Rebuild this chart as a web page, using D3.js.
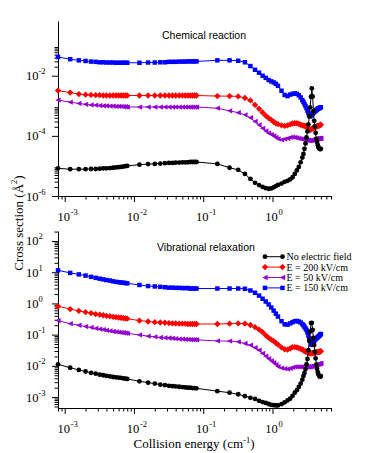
<!DOCTYPE html>
<html>
<head>
<meta charset="utf-8">
<script src="https://cdn.jsdelivr.net/npm/d3@7"></script>
<style>
  body { margin: 0; background: #fff; }
  text { font-family: "Liberation Serif", "Times New Roman", serif; fill: #000; }
  .panel-title { font-family: "Liberation Sans", Arial, sans-serif; }
</style>
</head>
<body>
<div id="chart"></div>
<script>
// collision energies (cm^-1), shared by every set
const energies = [
  0.0008, 0.0012, 0.0016, 0.002, 0.0024, 0.0028, 0.0032, 0.0036, 0.004, 0.0045, 0.005, 0.0055, 0.006, 0.0065, 0.007, 0.0075, 0.008,
  0.012, 0.016, 0.02, 0.024, 0.028, 0.032, 0.036, 0.04, 0.045, 0.05, 0.055, 0.06, 0.065, 0.07, 0.075, 0.08,
  0.16, 0.24, 0.32, 0.4, 0.48, 0.56, 0.64, 0.72, 0.8, 0.88, 0.96, 1.04, 1.12, 1.2,
  1.35, 1.5, 1.65, 1.8, 1.95, 2.1, 2.25, 2.4, 2.55, 2.7,
  2.8, 2.9, 3.0, 3.1, 3.2, 3.3, 3.4, 3.5, 3.6, 3.7, 3.8, 3.9, 4.0, 4.1, 4.2, 4.3, 4.4, 4.5, 4.6, 4.7, 4.8, 4.9, 5.0
];

// Chemical reaction cross sections (A^2)
const reactionNoField = [
  8.3e-6, 7.8e-6, 7.8e-6, 7.8e-6, 7.9e-6, 7.9e-6, 8.1e-6, 8.3e-6, 8.3e-6, 8.5e-6, 8.7e-6, 8.9e-6, 9.1e-6, 9.3e-6, 9.5e-6, 9.8e-6, 1.0e-5,
  1.1e-5, 1.15e-5, 1.17e-5, 1.2e-5, 1.23e-5, 1.26e-5, 1.26e-5, 1.29e-5, 1.29e-5, 1.32e-5, 1.32e-5, 1.32e-5, 1.35e-5, 1.35e-5, 1.35e-5, 1.35e-5,
  1.17e-5, 8.7e-6, 7.4e-6, 5.4e-6, 3.7e-6, 2.75e-6, 2.3e-6, 2.0e-6, 1.82e-6, 1.74e-6, 1.78e-6, 1.95e-6, 2.14e-6, 2.34e-6,
  2.6e-6, 2.95e-6, 3.2e-6, 3.55e-6, 4.2e-6, 5.4e-6, 7.1e-6, 9.3e-6, 1.32e-5, 1.9e-5,
  2.5e-5, 3.7e-5, 5.6e-5, 8.9e-5, 1.41e-4, 2.4e-4, 4.5e-4, 8.9e-4, 2.0e-3, 3.8e-3, 2.04e-3, 6.6e-4, 3.16e-4, 2.04e-4, 1.26e-4, 7.9e-5, 6.3e-5, 5.0e-5, 4.3e-5, 3.9e-5, 3.7e-5, 3.6e-5, 3.7e-5
];
const reaction200 = [
  3.2e-3, 2.75e-3, 2.45e-3, 2.35e-3, 2.3e-3, 2.25e-3, 2.25e-3, 2.2e-3, 2.2e-3, 2.2e-3, 2.2e-3, 2.2e-3, 2.2e-3, 2.2e-3, 2.2e-3, 2.2e-3, 2.2e-3,
  2.2e-3, 2.2e-3, 2.2e-3, 2.2e-3, 2.2e-3, 2.2e-3, 2.2e-3, 2.2e-3, 2.2e-3, 2.2e-3, 2.2e-3, 2.2e-3, 2.2e-3, 2.2e-3, 2.2e-3, 2.2e-3,
  2.1e-3, 2.1e-3, 2.05e-3, 1.82e-3, 1.51e-3, 1.07e-3, 7.9e-4, 6.0e-4, 4.7e-4, 3.9e-4, 3.4e-4, 2.95e-4, 2.6e-4, 2.45e-4,
  2.24e-4, 2.14e-4, 2.24e-4, 2.4e-4, 2.57e-4, 2.63e-4, 2.63e-4, 2.5e-4, 2.34e-4, 2.24e-4,
  2.19e-4, 2.14e-4, 2.09e-4, 2.04e-4, 1.9e-4, 1.74e-4, 1.62e-4, 1.58e-4, 1.62e-4, 1.7e-4, 1.78e-4, 1.86e-4, 1.9e-4, 1.95e-4, 2.0e-4, 2.04e-4, 2.09e-4, 2.14e-4, 2.14e-4, 2.19e-4, 2.24e-4, 2.29e-4, 2.34e-4
];
const reaction50 = [
  1.55e-3, 1.32e-3, 1.2e-3, 1.12e-3, 1.07e-3, 1.05e-3, 1.02e-3, 1.0e-3, 1.0e-3, 9.8e-4, 9.8e-4, 9.5e-4, 9.5e-4, 9.5e-4, 9.3e-4, 9.3e-4, 9.1e-4,
  9.1e-4, 9.1e-4, 9.1e-4, 9.1e-4, 9.1e-4, 9.1e-4, 9.1e-4, 9.1e-4, 9.1e-4, 9.1e-4, 9.1e-4, 9.1e-4, 9.1e-4, 9.1e-4, 9.1e-4, 9.1e-4,
  8.3e-4, 6.8e-4, 5.9e-4, 5.0e-4, 4.0e-4, 3.0e-4, 2.3e-4, 1.78e-4, 1.45e-4, 1.23e-4, 1.1e-4, 1.0e-4, 8.9e-5, 7.9e-5,
  7.4e-5, 7.8e-5, 8.3e-5, 8.9e-5, 9.1e-5, 8.9e-5, 8.5e-5, 8.3e-5, 7.9e-5, 7.8e-5,
  7.6e-5, 7.4e-5, 7.4e-5, 7.2e-5, 7.2e-5, 7.1e-5, 6.9e-5, 6.9e-5, 7.1e-5, 7.2e-5, 7.4e-5, 7.6e-5, 7.8e-5, 7.8e-5, 7.9e-5, 7.9e-5, 8.1e-5, 8.1e-5, 8.1e-5, 8.3e-5, 8.3e-5, 8.3e-5, 8.3e-5
];
const reaction150 = [
  4.2e-2, 3.55e-2, 3.25e-2, 3.1e-2, 2.95e-2, 2.9e-2, 2.8e-2, 2.8e-2, 2.75e-2, 2.75e-2, 2.75e-2, 2.7e-2, 2.7e-2, 2.7e-2, 2.7e-2, 2.7e-2, 2.7e-2,
  2.7e-2, 2.75e-2, 2.75e-2, 2.8e-2, 2.8e-2, 2.9e-2, 2.9e-2, 2.9e-2, 2.95e-2, 2.95e-2, 2.95e-2, 3.0e-2, 3.0e-2, 3.0e-2, 3.0e-2, 3.0e-2,
  3.25e-2, 3.25e-2, 3.15e-2, 2.8e-2, 2.1e-2, 1.58e-2, 1.26e-2, 1.0e-2, 8.5e-3, 7.2e-3, 6.5e-3, 6.0e-3, 5.4e-3, 4.6e-3,
  3.16e-3, 2.3e-3, 2.1e-3, 2.35e-3, 2.5e-3, 2.57e-3, 2.5e-3, 2.24e-3, 1.9e-3, 1.55e-3,
  1.35e-3, 1.15e-3, 9.8e-4, 8.3e-4, 6.9e-4, 5.75e-4, 4.8e-4, 4.4e-4, 4.7e-4, 5.1e-4, 5.5e-4, 5.9e-4, 6.2e-4, 6.6e-4, 6.9e-4, 7.2e-4, 7.6e-4, 7.9e-4, 8.1e-4, 8.3e-4, 8.5e-4, 8.7e-4, 8.9e-4
];

// Vibrational relaxation cross sections (A^2)
const relaxNoField = [
  0.0112, 0.0087, 0.0074, 0.0066, 0.006, 0.0056, 0.0052, 0.005, 0.0048, 0.0046, 0.0044, 0.0043, 0.0042, 0.0041, 0.004, 0.0039, 0.0038,
  0.0032, 0.0029, 0.0027, 0.0025, 0.0024, 0.0023, 0.00224, 0.00219, 0.00214, 0.00209, 0.00204, 0.002, 0.002, 0.00195, 0.00195, 0.0019,
  1.55e-3, 1.38e-3, 1.23e-3, 1.07e-3, 9.5e-4, 8.7e-4, 7.6e-4, 6.9e-4, 6.5e-4, 6.0e-4, 5.6e-4, 5.5e-4, 5.4e-4, 5.4e-4,
  5.9e-4, 6.8e-4, 7.8e-4, 8.9e-4, 1.1e-3, 1.38e-3, 1.66e-3, 2.1e-3, 2.7e-3, 3.6e-3,
  4.7e-3, 5.9e-3, 7.9e-3, 1.12e-2, 1.66e-2, 3.16e-2, 6.3e-2, 0.126, 0.234, 0.24, 0.141, 0.079, 0.047, 0.0282, 0.0174, 0.011, 8.1e-3, 6.3e-3, 5.4e-3, 4.9e-3, 4.6e-3, 4.5e-3, 4.7e-3
];
const relax200 = [
  0.81, 0.66, 0.575, 0.525, 0.49, 0.457, 0.437, 0.417, 0.398, 0.389, 0.372, 0.363, 0.355, 0.347, 0.339, 0.331, 0.324,
  0.282, 0.263, 0.251, 0.245, 0.24, 0.234, 0.229, 0.229, 0.224, 0.224, 0.224, 0.219, 0.219, 0.219, 0.219, 0.219,
  0.219, 0.224, 0.229, 0.224, 0.204, 0.174, 0.145, 0.12, 0.095, 0.079, 0.069, 0.062, 0.054, 0.048,
  0.039, 0.034, 0.033, 0.036, 0.04, 0.04, 0.039, 0.037, 0.035, 0.033,
  0.0316, 0.030, 0.0288, 0.0282, 0.0269, 0.0263, 0.0257, 0.0251, 0.0251, 0.0251, 0.0257, 0.0257, 0.0263, 0.0263, 0.0269, 0.0269, 0.0275, 0.0275, 0.0282, 0.0282, 0.0288, 0.0288, 0.0295
];
const relax50 = [
  0.282, 0.224, 0.2, 0.182, 0.17, 0.158, 0.151, 0.145, 0.138, 0.132, 0.126, 0.123, 0.12, 0.117, 0.115, 0.112, 0.11,
  0.098, 0.089, 0.085, 0.081, 0.079, 0.078, 0.076, 0.074, 0.072, 0.072, 0.071, 0.071, 0.069, 0.069, 0.069, 0.068,
  0.063, 0.062, 0.059, 0.052, 0.046, 0.038, 0.0316, 0.0251, 0.0204, 0.017, 0.0145, 0.0126, 0.011, 0.0095,
  0.0085, 0.0081, 0.0079, 0.0083, 0.0089, 0.0093, 0.0093, 0.0093, 0.0093, 0.0093,
  0.0093, 0.0093, 0.0093, 0.0093, 0.0093, 0.0093, 0.0093, 0.0093, 0.0095, 0.0098, 0.01, 0.0102, 0.0105, 0.0107, 0.0107, 0.011, 0.0112, 0.0112, 0.0115, 0.0115, 0.0117, 0.0117, 0.012
];
const relax150 = [
  11.5, 9.5, 8.5, 7.8, 7.1, 6.6, 6.2, 5.9, 5.6, 5.4, 5.1, 4.9, 4.8, 4.7, 4.6, 4.5, 4.4,
  3.9, 3.6, 3.5, 3.4, 3.3, 3.2, 3.2, 3.15, 3.15, 3.1, 3.1, 3.1, 3.0, 3.0, 3.0, 3.0,
  3.0, 3.0, 3.0, 2.95, 2.6, 2.2, 1.78, 1.41, 1.15, 0.93, 0.74, 0.59, 0.47, 0.38,
  0.27, 0.214, 0.209, 0.229, 0.251, 0.269, 0.275, 0.263, 0.245, 0.219,
  0.2, 0.178, 0.158, 0.141, 0.117, 0.093, 0.076, 0.063, 0.05, 0.047, 0.051, 0.058, 0.063, 0.068, 0.072, 0.076, 0.079, 0.083, 0.087, 0.091, 0.095, 0.1, 0.105
];

const seriesLabels = ["No electric field", "E = 200 kV/cm", "E = 50 kV/cm", "E = 150 kV/cm"];
const xTickExponents = [-3, -2, -1, 0];
const reactionTickExponents = [-6, -4, -2];
const relaxTickExponents = [-3, -2, -1, 0, 1, 2];

const width = 389, height = 453;
const plotLeft = 58, plotRight = 331;

// marker look of each set, in legend order
const seriesStyles = [
  { color: "#000000", shape: d3.symbolCircle, size: 18 },
  { color: "#ff0000", shape: {
      draw(ctx, size) {
        const r = Math.sqrt(size / 2);
        ctx.moveTo(0, -r); ctx.lineTo(r, 0); ctx.lineTo(0, r); ctx.lineTo(-r, 0); ctx.closePath();
      } }, size: 20 },
  { color: "#9400d3", shape: {
      draw(ctx, size) {
        const r = Math.sqrt(size) / 2;
        ctx.moveTo(-r, 0); ctx.lineTo(r, -r); ctx.lineTo(r, r); ctx.closePath();
      } }, size: 28 },
  { color: "#0000ff", shape: d3.symbolSquare, size: 20 }
];

const minorTicks = (exponents, [lo, hi]) => exponents
  .flatMap(e => d3.range(2, 10).map(k => k * 10 ** e))
  .filter(v => v >= lo * 0.999 && v <= hi * 1.001);


class CrossSectionPanel {

  constructor(svg, sets, options) {
    this.svg = svg;
    this.sets = sets;
    this.top = options.top;
    this.bottom = options.bottom;
    this.yDomain = options.yDomain;
    this.yExponents = options.yExponents;
    this.yMinorExponents = options.yMinorExponents;
    this.title = options.title;
    this.titleX = options.titleX;
    this.titleY = options.titleY;
    this.draw();
  }

  draw() {
    this.g = this.svg.append("g");
    this._createScales();
    this._drawAxes();
    this._drawSets();
    this.g.append("text")
      .attr("class", "panel-title")
      .attr("x", this.titleX)
      .attr("y", this.titleY)
      .attr("font-size", 10.5)
      .text(this.title);
  }

  _createScales() {
    this.x = d3.scaleLog()
      .domain([8e-4, 7])
      .range([plotLeft, plotRight]);

    this.y = d3.scaleLog()
      .domain(this.yDomain)
      .range([this.bottom, this.top]);
  }

  _drawAxes() {
    const xMajor = xTickExponents.map(e => 10 ** e);
    const yMajor = this.yExponents.map(e => 10 ** e);

    const xAxis = this.g.append("g")
      .attr("transform", `translate(0,${this.bottom})`);
    xAxis.append("g")
      .call(d3.axisBottom(this.x).tickValues(minorTicks([-4, -3, -2, -1, 0], this.x.domain())).tickSize(3.5).tickFormat(""))
      .call(g => g.select(".domain").remove());
    xAxis.append("g")
      .call(d3.axisBottom(this.x).tickValues(xMajor).tickSize(6).tickSizeOuter(0).tickFormat(""));

    const yAxis = this.g.append("g")
      .attr("transform", `translate(${plotLeft},0)`);
    yAxis.append("g")
      .call(d3.axisLeft(this.y).tickValues(minorTicks(this.yMinorExponents, this.y.domain())).tickSize(3.5).tickFormat(""))
      .call(g => g.select(".domain").remove());
    yAxis.append("g")
      .call(d3.axisLeft(this.y).tickValues(yMajor).tickSize(6).tickSizeOuter(0).tickFormat(""));

    this.g.selectAll(".tick line, .domain").attr("stroke", "#000");

    // power-of-ten labels with raised exponents
    xTickExponents.forEach(e => {
      const px = this.x(10 ** e);
      this.g.append("text").attr("x", px - 1).attr("y", this.bottom + 25)
        .attr("text-anchor", "middle").attr("font-size", 12.5).text("10");
      this.g.append("text").attr("x", px + 6).attr("y", this.bottom + 19)
        .attr("font-size", 8.5).text(e);
    });

    this.yExponents.forEach(e => {
      const py = this.y(10 ** e);
      this.g.append("text").attr("x", 38.5).attr("y", py + 4.5)
        .attr("text-anchor", "end").attr("font-size", 12.5).text("10");
      this.g.append("text").attr("x", 38.5).attr("y", py - 1.5)
        .attr("font-size", 8.5).text(e);
    });
  }

  _drawSets() {
    const line = d3.line()
      .x(d => this.x(d[0]))
      .y(d => this.y(d[1]));

    // last set first so the no-field curve sits on top
    this.sets.map((values, i) => [values, i]).reverse().forEach(([values, i]) => {
      const style = seriesStyles[i];
      const points = d3.zip(energies, values);
      const group = this.g.append("g");

      group.append("path")
        .datum(points)
        .attr("fill", "none")
        .attr("stroke", style.color)
        .attr("stroke-width", 1)
        .attr("d", line);

      group.selectAll("path.marker")
        .data(points)
        .join("path")
          .attr("class", "marker")
          .attr("transform", d => `translate(${this.x(d[0])},${this.y(d[1])})`)
          .attr("fill", style.color)
          .attr("d", d3.symbol(style.shape, style.size));
    });
  }
}


const svg = d3.select("#chart")
  .append("svg")
  .attr("width", width)
  .attr("height", height);

new CrossSectionPanel(svg, [reactionNoField, reaction200, reaction50, reaction150], {
  top: 21, bottom: 196,
  yDomain: [1e-6, 10 ** -0.18],
  yExponents: reactionTickExponents,
  yMinorExponents: [-6, -4, -2],
  title: "Chemical reaction", titleX: 162, titleY: 39
});

new CrossSectionPanel(svg, [relaxNoField, relax200, relax50, relax150], {
  top: 231, bottom: 408,
  yDomain: [10 ** -3.35, 10 ** 2.32],
  yExponents: relaxTickExponents,
  yMinorExponents: [-4, -3, -2, -1, 0, 1, 2],
  title: "Vibrational relaxation", titleX: 157, titleY: 251
});

// legend
const legend = svg.append("g").attr("transform", "translate(265,256.7)");
seriesLabels.forEach((label, i) => {
  const style = seriesStyles[i];
  const row = legend.append("g").attr("transform", `translate(0,${i * 10.4})`);
  row.append("line").attr("x1", 0).attr("x2", 17.5)
    .attr("stroke", style.color).attr("stroke-width", 1);
  [0, 17.5].forEach(lx => row.append("path")
    .attr("transform", `translate(${lx},0)`)
    .attr("fill", style.color)
    .attr("d", d3.symbol(style.shape, style.size)));
  row.append("text").attr("x", 21.5).attr("y", 3.5)
    .attr("font-size", 10).text(label);
});

// axis titles
svg.append("text")
  .attr("x", 194).attr("y", 448)
  .attr("text-anchor", "middle").attr("font-size", 13)
  .call(t => {
    t.append("tspan").text("Collision energy (cm");
    t.append("tspan").attr("dy", -5).attr("font-size", 8.5).text("-1");
    t.append("tspan").attr("dy", 5).text(")");
  });

svg.append("text")
  .attr("transform", "translate(23,223) rotate(-90)")
  .attr("text-anchor", "middle").attr("font-size", 13)
  .call(t => {
    t.append("tspan").text("Cross section (\u00c5");
    t.append("tspan").attr("dy", -6).attr("font-size", 8.5).text("2");
    t.append("tspan").attr("dy", 6).text(")");
  });
</script>
</body>
</html>
